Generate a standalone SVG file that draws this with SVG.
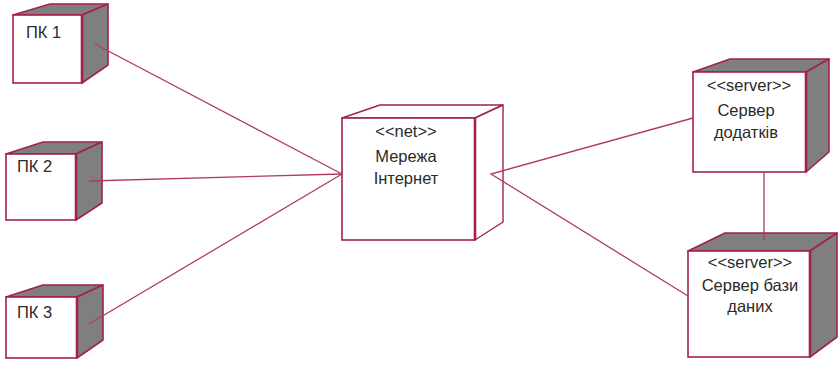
<svg xmlns="http://www.w3.org/2000/svg" width="839" height="365" viewBox="0 0 839 365">
  <style>
    .front { fill: #ffffff; stroke: #a3204f; stroke-width: 1.6; }
    .side { fill: #7f7f7f; stroke: #a3204f; stroke-width: 1.6; stroke-linejoin: round; }
    .side-w { fill: #ffffff; stroke: #a3204f; stroke-width: 1.4; stroke-linejoin: round; }
    .edge { stroke: #a3204f; stroke-width: 2.6; }
    .link { fill: none; stroke: #b23a62; stroke-width: 1.3; }
    text { font-family: "Liberation Sans", Arial, sans-serif; font-size: 16.5px; fill: #2b2b2b; }
    .c { text-anchor: middle; }
  </style>

  <!-- client workstations -->
  <g id="pk1">
    <polygon class="side" points="13,15 50,4 108,4 82,15"/>
    <polygon class="side" points="82,15 108,4 108,65 82,83"/>
    <rect class="front" x="13" y="15" width="69" height="68"/>
    <line class="edge" x1="82" y1="15" x2="82" y2="83"/>
    <text x="26" y="38">ПК 1</text>
  </g>

  <g id="pk2">
    <polygon class="side" points="6,154 43,142 102,142 76,154"/>
    <polygon class="side" points="76,154 102,142 102,203 76,220"/>
    <rect class="front" x="6" y="154" width="70" height="66"/>
    <line class="edge" x1="76" y1="154" x2="76" y2="220"/>
    <text x="17" y="172">ПК 2</text>
  </g>

  <g id="pk3">
    <polygon class="side" points="6,297 43,285 103,285 77,297"/>
    <polygon class="side" points="77,297 103,285 103,340 77,358"/>
    <rect class="front" x="6" y="297" width="71" height="61"/>
    <line class="edge" x1="77" y1="297" x2="77" y2="358"/>
    <text x="17" y="318">ПК 3</text>
  </g>

  <!-- network node -->
  <g id="internet">
    <polygon class="side-w" points="342,118 380,105 503,105 475,118"/>
    <polygon class="side-w" points="475,118 503,105 503,222 475,240"/>
    <rect class="front" x="342" y="118" width="133" height="122"/>
    <line class="edge" x1="475" y1="118" x2="475" y2="240"/>
    <text class="c" x="406" y="137">&lt;&lt;net&gt;&gt;</text>
    <text class="c" x="406" y="162">Мережа</text>
    <text class="c" x="406" y="184">Інтернет</text>
  </g>

  <!-- servers -->
  <g id="app-server">
    <polygon class="side" points="693,72 730,59 829,59 806,72"/>
    <polygon class="side" points="806,72 829,59 829,152 806,172"/>
    <rect class="front" x="693" y="72" width="113" height="100"/>
    <line class="edge" x1="806" y1="72" x2="806" y2="172"/>
    <text class="c" x="749" y="91">&lt;&lt;server&gt;&gt;</text>
    <text class="c" x="746" y="116">Сервер</text>
    <text class="c" x="746" y="138">додатків</text>
  </g>

  <g id="db-server">
    <polygon class="side" points="688,251 725,233 837,233 810,251"/>
    <polygon class="side" points="810,251 837,233 837,337 810,357"/>
    <rect class="front" x="688" y="251" width="122" height="106"/>
    <line class="edge" x1="810" y1="251" x2="810" y2="357"/>
    <text class="c" x="750" y="268">&lt;&lt;server&gt;&gt;</text>
    <text class="c" x="750" y="291">Сервер бази</text>
    <text class="c" x="750" y="312">даних</text>
  </g>

  <!-- connectors, drawn over the node side faces they start from -->
  <g id="connectors">
    <line class="link" x1="95" y1="44" x2="342" y2="174"/>
    <line class="link" x1="89" y1="181" x2="342" y2="174"/>
    <line class="link" x1="89" y1="324" x2="342" y2="174"/>
    <polyline class="link" points="693,118 491,174 688,296"/>
    <line class="link" x1="764" y1="172" x2="764" y2="240"/>
  </g>
</svg>
